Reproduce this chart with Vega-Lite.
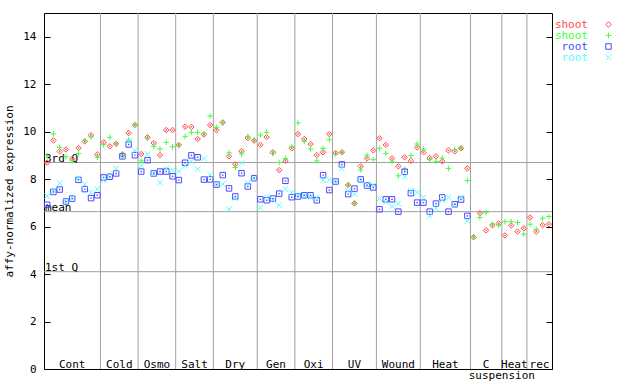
{
  "$schema": "https://vega.github.io/schema/vega-lite/v6.json",
  "width": 508,
  "height": 356,
  "autosize": "none",
  "padding": {"left": 44, "top": 13, "right": 88, "bottom": 15},
  "background": "white",
  "config": {
    "view": {"stroke": "black", "strokeWidth": 1},
    "font": "DejaVu Sans Mono",
    "axis": {"labelFont": "DejaVu Sans Mono", "titleFont": "DejaVu Sans Mono", "labelFontSize": 11, "titleFontSize": 11, "titleFontWeight": "normal", "labelColor": "black", "titleColor": "black", "tickColor": "black"}
  },
  "datasets": {
    "expr": [
      {"i":1,"r":8.70,"g":8.98,"b":6.92,"c":7.28},
      {"i":2,"r":9.63,"g":9.90,"b":7.46,"c":7.50},
      {"i":3,"r":9.17,"g":9.34,"b":7.56,"c":7.83},
      {"i":4,"r":9.25,"g":8.94,"b":7.06,"c":7.05},
      {"i":5,"r":8.86,"g":8.78,"b":7.18,"c":7.20},
      {"i":6,"r":9.31,"g":9.08,"b":7.97,"c":8.04},
      {"i":7,"r":9.59,"g":9.62,"b":7.58,"c":7.79},
      {"i":8,"r":9.85,"g":9.77,"b":7.20,"c":7.44},
      {"i":9,"r":9.04,"g":8.92,"b":7.32,"c":7.58},
      {"i":10,"r":9.55,"g":9.45,"b":8.07,"c":7.94},
      {"i":11,"r":9.38,"g":9.76,"b":8.10,"c":8.10},
      {"i":12,"r":9.49,"g":9.49,"b":8.24,"c":8.45},
      {"i":13,"r":9.04,"g":8.99,"b":8.96,"c":8.96},
      {"i":14,"r":9.94,"g":9.66,"b":9.46,"c":9.60},
      {"i":15,"r":10.28,"g":10.30,"b":9.01,"c":9.20},
      {"i":16,"r":9.06,"g":8.77,"b":8.32,"c":8.56},
      {"i":17,"r":9.76,"g":9.73,"b":8.80,"c":9.06},
      {"i":18,"r":9.52,"g":9.38,"b":8.24,"c":8.24},
      {"i":19,"r":9.01,"g":9.27,"b":8.32,"c":7.86},
      {"i":20,"r":10.07,"g":9.55,"b":8.32,"c":8.45},
      {"i":21,"r":10.07,"g":9.36,"b":8.12,"c":8.38},
      {"i":22,"r":9.44,"g":9.44,"b":7.96,"c":8.32},
      {"i":23,"r":10.21,"g":9.80,"b":8.69,"c":8.56},
      {"i":24,"r":10.20,"g":9.97,"b":9.00,"c":8.75},
      {"i":25,"r":9.69,"g":9.97,"b":8.92,"c":8.42},
      {"i":26,"r":9.88,"g":9.92,"b":7.98,"c":8.87},
      {"i":27,"r":10.28,"g":10.66,"b":7.99,"c":8.18},
      {"i":28,"r":10.06,"g":10.18,"b":7.77,"c":7.77},
      {"i":29,"r":10.39,"g":10.37,"b":8.17,"c":7.79},
      {"i":30,"r":8.96,"g":9.11,"b":7.61,"c":6.73},
      {"i":31,"r":8.63,"g":8.49,"b":7.27,"c":7.18},
      {"i":32,"r":9.18,"g":9.06,"b":8.25,"c":8.68},
      {"i":33,"r":9.73,"g":9.80,"b":7.69,"c":7.83},
      {"i":34,"r":9.62,"g":9.65,"b":8.04,"c":8.04},
      {"i":35,"r":9.44,"g":9.86,"b":7.15,"c":6.80},
      {"i":36,"r":9.77,"g":9.97,"b":7.11,"c":7.25},
      {"i":37,"r":9.13,"g":9.08,"b":7.18,"c":7.13},
      {"i":38,"r":8.38,"g":8.70,"b":7.39,"c":6.90},
      {"i":39,"r":8.77,"g":8.87,"b":7.93,"c":7.58},
      {"i":40,"r":9.30,"g":9.38,"b":7.24,"c":7.44},
      {"i":41,"r":9.90,"g":10.37,"b":7.27,"c":7.32},
      {"i":42,"r":9.69,"g":9.59,"b":7.32,"c":7.32},
      {"i":43,"r":9.48,"g":9.27,"b":7.32,"c":7.23},
      {"i":44,"r":9.01,"g":8.77,"b":7.11,"c":7.23},
      {"i":45,"r":9.13,"g":9.30,"b":8.17,"c":7.96},
      {"i":46,"r":9.90,"g":9.66,"b":7.54,"c":7.96},
      {"i":47,"r":9.10,"g":9.06,"b":7.90,"c":7.90},
      {"i":48,"r":9.13,"g":9.13,"b":8.62,"c":8.45},
      {"i":49,"r":7.75,"g":7.75,"b":7.37,"c":7.51},
      {"i":50,"r":6.98,"g":6.98,"b":7.60,"c":7.37},
      {"i":51,"r":8.54,"g":8.39,"b":7.99,"c":7.96},
      {"i":52,"r":8.87,"g":9.01,"b":7.73,"c":7.75},
      {"i":53,"r":9.21,"g":8.82,"b":7.65,"c":7.75},
      {"i":54,"r":9.72,"g":9.30,"b":6.73,"c":7.18},
      {"i":55,"r":9.44,"g":9.08,"b":7.15,"c":7.04},
      {"i":56,"r":8.87,"g":8.73,"b":7.15,"c":6.85},
      {"i":57,"r":8.54,"g":8.14,"b":6.63,"c":6.97},
      {"i":58,"r":8.92,"g":8.42,"b":8.31,"c":8.10},
      {"i":59,"r":8.77,"g":8.99,"b":7.41,"c":7.51},
      {"i":60,"r":9.34,"g":9.48,"b":7.01,"c":7.44},
      {"i":61,"r":9.13,"g":9.27,"b":7.01,"c":7.23},
      {"i":62,"r":8.89,"g":8.82,"b":6.63,"c":6.45},
      {"i":63,"r":8.96,"g":8.75,"b":6.97,"c":6.77},
      {"i":64,"r":8.75,"g":8.89,"b":7.23,"c":7.11},
      {"i":65,"r":9.21,"g":8.45,"b":6.63,"c":7.23},
      {"i":66,"r":9.17,"g":9.24,"b":6.94,"c":6.94},
      {"i":67,"r":9.30,"g":9.30,"b":7.14,"c":7.23},
      {"i":68,"r":8.45,"g":7.94,"b":6.45,"c":6.24},
      {"i":69,"r":5.55,"g":5.57},
      {"i":70,"r":6.56,"g":6.38},
      {"i":71,"r":5.84,"g":6.59},
      {"i":72,"r":6.05,"g":6.10},
      {"i":73,"r":6.13,"g":6.06},
      {"i":74,"r":5.63,"g":6.21},
      {"i":75,"r":6.05,"g":6.21},
      {"i":76,"r":5.79,"g":6.17},
      {"i":77,"r":5.93,"g":5.68},
      {"i":78,"r":6.38,"g":6.10},
      {"i":79,"r":5.79,"g":5.89},
      {"i":80,"r":6.06,"g":6.35},
      {"i":81,"r":6.10,"g":6.42}
    ],
    "groups": [
      {"label":"Cont","mid":5,"end":9.5},
      {"label":"Cold","mid":12.5,"end":15.5},
      {"label":"Osmo","mid":18.5,"end":21.5},
      {"label":"Salt","mid":24.5,"end":27.5},
      {"label":"Dry","mid":31,"end":34.5},
      {"label":"Gen","mid":37.5,"end":40.5},
      {"label":"Oxi","mid":43.5,"end":46.5},
      {"label":"UV","mid":50,"end":53.5},
      {"label":"Wound","mid":57,"end":60.5},
      {"label":"Heat","mid":64.5,"end":68.5},
      {"label":"C","mid":71,"end":73.5},
      {"label":"Heat","mid":75.5,"end":77.5},
      {"label":"rec","mid":79.5,"end":81.5}
    ],
    "sub": [{"label":"suspension","mid":73.5}],
    "quart": [
      {"name":"3rd Q","v":8.70},
      {"name":"mean","v":6.63},
      {"name":"1st Q","v":4.10}
    ]
  },
  "resolve": {"axis": {"y": "independent"}},
  "layer": [
    {
      "data": {"name": "groups"},
      "transform": [{"filter": "datum.end < 81"}],
      "mark": {"type": "rule", "color": "#a0a0a0", "strokeWidth": 1},
      "encoding": {
        "x": {"field": "end", "type": "quantitative", "scale": {"domain": [0.5, 81.5], "nice": false, "zero": false}, "axis": null}
      }
    },
    {
      "data": {"name": "quart"},
      "mark": {"type": "rule", "color": "#a0a0a0", "strokeWidth": 1},
      "encoding": {
        "y": {"field": "v", "type": "quantitative", "scale": {"domain": [0, 15], "nice": false},
          "axis": {"orient": "left", "title": "affy-normalized expression", "values": [0,2,4,6,8,10,12,14], "grid": false, "domain": false, "tickSize": -6, "labelPadding": 14, "titlePadding": 8}}
      }
    },
    {
      "data": {"name": "quart"},
      "mark": {"type": "text", "align": "left", "baseline": "alphabetic", "dx": 1, "dy": -1, "font": "DejaVu Sans Mono", "fontSize": 11, "color": "black"},
      "encoding": {
        "x": {"datum": 0.5, "type": "quantitative"},
        "y": {"field": "v", "type": "quantitative", "axis": null},
        "text": {"field": "name"}
      }
    },
    {
      "data": {"name": "groups"},
      "mark": {"type": "text", "align": "center", "baseline": "alphabetic", "dy": -1, "font": "DejaVu Sans Mono", "fontSize": 11, "color": "black"},
      "encoding": {
        "x": {"field": "mid", "type": "quantitative"},
        "y": {"datum": 0, "type": "quantitative", "axis": null},
        "text": {"field": "label"}
      }
    },
    {
      "data": {"name": "sub"},
      "mark": {"type": "text", "align": "center", "baseline": "alphabetic", "dy": 10, "font": "DejaVu Sans Mono", "fontSize": 11, "color": "black"},
      "encoding": {
        "x": {"field": "mid", "type": "quantitative"},
        "y": {"datum": 0, "type": "quantitative", "axis": null},
        "text": {"field": "label"}
      }
    },
    {
      "data": {"name": "expr"},
      "transform": [{"fold": ["r", "g", "b", "c"], "as": ["s", "v"]}, {"filter": "isValid(datum.v)"}],
      "mark": {"type": "point", "filled": false, "strokeWidth": 1, "size": 30, "opacity": 1},
      "encoding": {
        "x": {"field": "i", "type": "quantitative"},
        "y": {"field": "v", "type": "quantitative", "axis": null},
        "color": {"field": "s", "type": "nominal",
          "scale": {"domain": ["r", "g", "b", "c"], "range": ["#ff4a4a", "#40ff40", "#4a4aff", "#50ffff"]},
          "legend": {"title": null, "orient": "none", "legendX": 506, "legendY": 6, "labelExpr": "datum.label == 'r' || datum.label == 'g' ? 'shoot' : 'root'", "labelFont": "DejaVu Sans Mono", "labelFontSize": 11, "symbolSize": 30, "symbolStrokeWidth": 1, "rowPadding": -1, "padding": 0,
            "labelAlign": "right", "labelOffset": -26, "symbolOffset": 53,
            "labelColor": {"expr": "scale('color', datum.value)"}}
        },
        "shape": {"field": "s", "type": "nominal",
          "scale": {"domain": ["r", "g", "b", "c"], "range": ["M-1,0L0,-1L1,0L0,1Z", "M-1,0L1,0M0,-1L0,1", "M-1,-1L1,-1L1,1L-1,1Z", "M-1,-1L1,1M-1,1L1,-1"]},
          "legend": null
        }
      }
    },
    {
      "data": {"name": "expr"},
      "transform": [{"fold": ["r", "b"], "as": ["s", "v"]}, {"filter": "isValid(datum.v)"}],
      "mark": {"type": "square", "size": 2, "opacity": 1},
      "encoding": {
        "x": {"field": "i", "type": "quantitative"},
        "y": {"field": "v", "type": "quantitative", "axis": null},
        "color": {"condition": {"test": "datum.s == 'r'", "value": "#ff4a4a"}, "value": "#4a4aff"}
      }
    },
    {
      "data": {"name": "quart"},
      "mark": {"type": "rule", "opacity": 0},
      "encoding": {
        "y": {"field": "v", "type": "quantitative",
          "axis": {"orient": "right", "title": null, "labels": false, "values": [0,2,4,6,8,10,12,14], "grid": false, "domain": false, "tickSize": -6}}
      }
    }
  ]
}
